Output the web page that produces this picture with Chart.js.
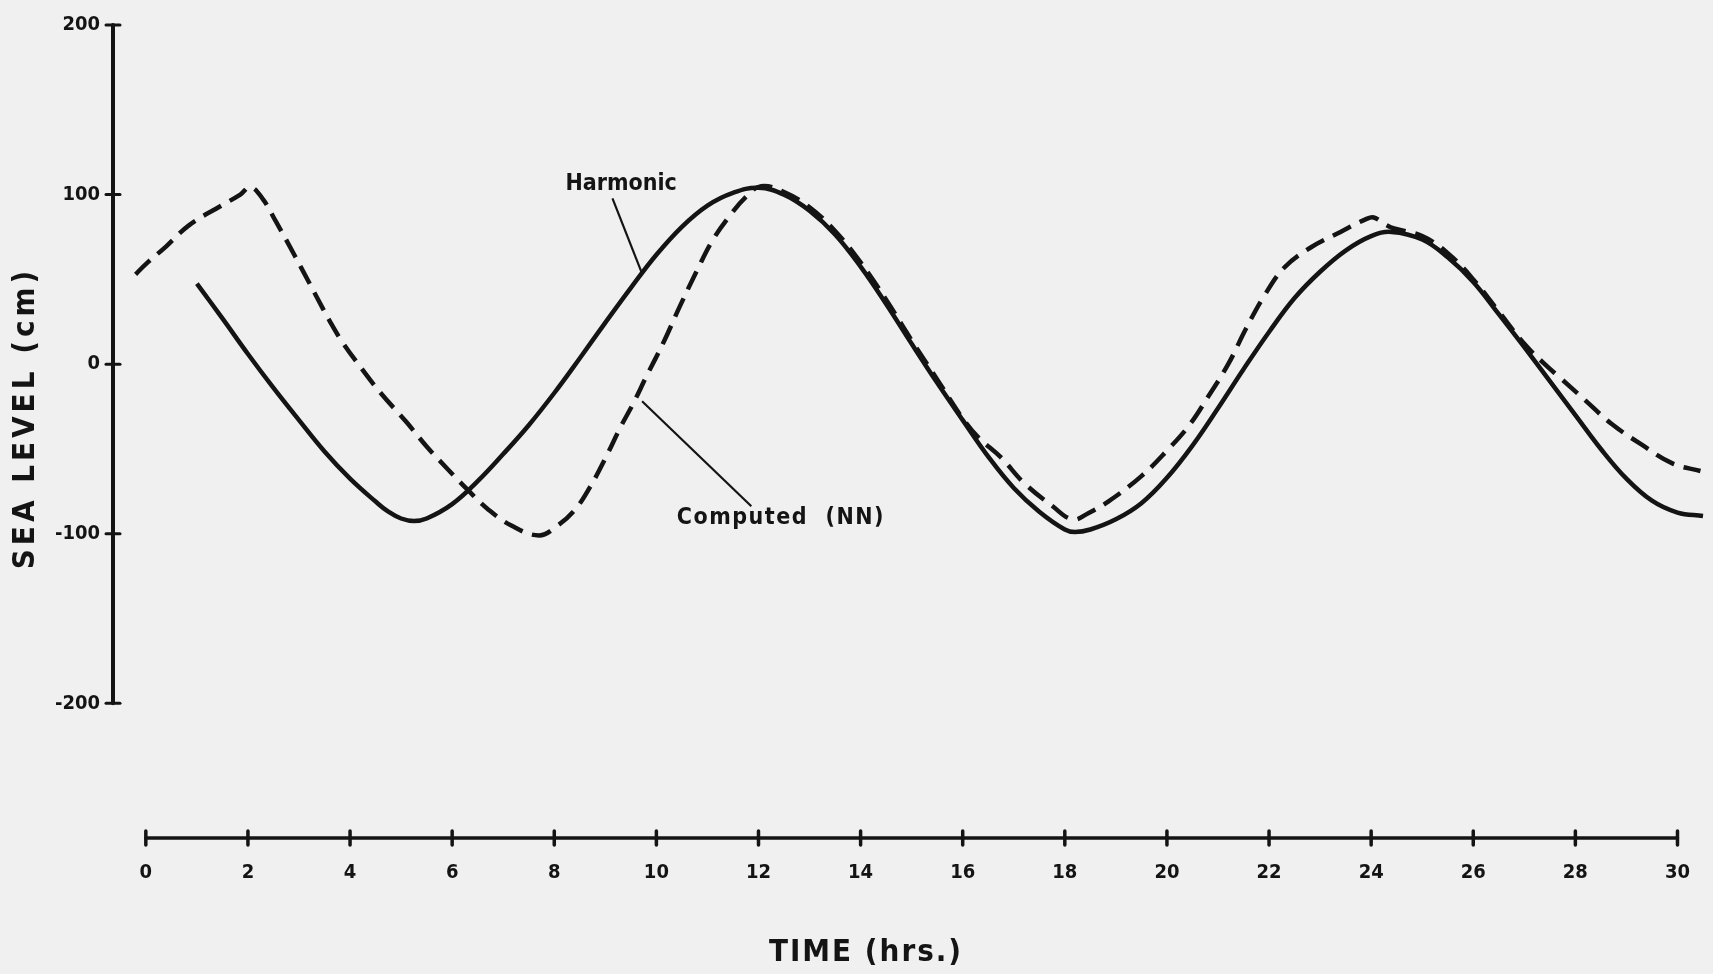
<!DOCTYPE html>
<html>
<head>
<meta charset="utf-8">
<script src="https://cdn.jsdelivr.net/npm/chart.js@4/dist/chart.umd.min.js"></script>
<style>
html,body{margin:0;padding:0;background:#f0f0f0;overflow:hidden}
#wrap{width:1713px;height:974px;position:relative}
canvas{display:block}
</style>
</head>
<body>
<div id="wrap"><canvas id="c" width="1713" height="974"></canvas></div>
<script>
// ---- data ----
const harmonicHours = [1.0,1.5,2.0,2.5,3.0,3.5,4.0,4.5,4.75,5.0,5.25,5.5,6.0,6.5,7.0,7.5,8.0,8.5,9.0,9.5,10.0,10.5,11.0,11.5,12.0,12.5,13.0,13.5,14.0,14.5,15.0,15.5,16.0,16.5,17.0,17.5,18.0,18.2,18.5,19.0,19.5,20.0,20.5,21.0,21.5,22.0,22.5,23.0,23.5,24.0,24.4,25.0,25.5,26.0,26.5,27.0,27.5,28.0,28.5,29.0,29.5,30.0,30.5];
const harmonicLevels = [47.5,27,6,-14,-33,-51.5,-67.5,-81,-87,-91,-92.5,-91,-82.5,-69,-53,-36,-17,3.5,24.5,45,64.5,81,93.5,101,104,100,90.5,76.5,57.5,35.5,12,-11,-33,-54.5,-73,-87,-97.5,-99,-97.5,-91.5,-82,-67,-48,-26,-3,19,39,54.5,67,75.5,78,73.5,63,48.5,29.5,10,-10,-30,-50,-67.5,-80.5,-87.5,-89.5];
const computedHours = [-0.2,0.0,0.4,0.85,1.45,1.85,2.05,2.3,2.55,2.8,3.05,3.35,3.6,3.85,4.25,4.6,5.1,5.5,5.9,6.3,6.7,7.15,7.7,8.05,8.4,8.7,9.0,9.3,9.55,9.8,10.15,10.45,10.8,11.1,11.45,11.75,12.05,12.5,13.0,13.5,14.0,14.5,15.0,15.5,16.0,16.3,16.75,17.2,17.75,18.15,18.45,18.85,19.5,20.0,20.45,20.8,21.2,21.55,21.9,22.3,22.8,23.4,23.9,24.05,24.3,24.45,25.0,25.5,26.0,26.5,27.0,27.4,27.7,28.2,28.7,29.3,29.9,30.45];
const computedLevels = [53,59,69.5,82,93,100,104.5,97,84,70.5,56.5,39.5,25.5,13,-3.5,-17,-34,-48.5,-61.5,-74,-85.5,-95,-101,-95.5,-86,-72.5,-55.5,-37,-23,-7.5,13.5,33.5,55.5,73,88,98.5,105,101.5,92.5,78.5,60,38,14,-9,-32,-43,-55,-70,-83.5,-91.5,-88,-81,-66,-51,-35.5,-19.5,0,21,40,57,68.5,78,85.5,86.5,82,80,75.5,65.5,50,31,12,0,-8,-21.5,-35,-47.5,-58.5,-63];
const xTickValues = [0,2,4,6,8,10,12,14,16,18,20,22,24,26,28,30];
const yTickValues = [-200,-100,0,100,200];
const seriesNames = ['Harmonic','Computed  (NN)'];
const xAxisTitle = 'TIME (hrs.)';
const yAxisTitle = 'SEA LEVEL (cm)';

// label callouts, in data coordinates
const callouts = [
  {text: seriesNames[0], x: 8.22, y: 106, from: [9.14, 97.8], to: [9.72, 53.4], spacing: '0px'},
  {text: seriesNames[1], x: 10.40, y: -90.8, from: [11.86, -83.8], to: [9.72, -21.9], spacing: '1.5px'}
];

const FONT = "'DejaVu Sans Condensed','Liberation Sans Narrow','DejaVu Sans',sans-serif";
const INK = '#141414';

const paper = {
  id: 'paper',
  beforeDraw(chart) {
    const c = chart.ctx;
    c.save();
    c.fillStyle = '#f0f0f0';
    c.fillRect(0, 0, chart.width, chart.height);
    c.restore();
  },
  afterDraw(chart) {
    const c = chart.ctx;
    const xs = chart.scales.x, ys = chart.scales.y;
    const area = chart.chartArea;
    c.save();
    c.strokeStyle = INK;
    c.fillStyle = INK;
    c.lineCap = 'round';
    // y axis line
    const ax = area.left;
    c.lineWidth = 4;
    c.beginPath();
    c.moveTo(ax, ys.getPixelForValue(yTickValues[yTickValues.length - 1]));
    c.lineTo(ax, ys.getPixelForValue(yTickValues[0]));
    c.stroke();
    c.lineWidth = 3;
    yTickValues.forEach(v => {
      const py = ys.getPixelForValue(v);
      c.beginPath(); c.moveTo(ax - 7, py); c.lineTo(ax + 7, py); c.stroke();
    });
    // x axis line
    const ay = area.bottom;
    c.lineWidth = 3.5;
    c.beginPath();
    c.moveTo(xs.getPixelForValue(xTickValues[0]), ay);
    c.lineTo(xs.getPixelForValue(xTickValues[xTickValues.length - 1]), ay);
    c.stroke();
    xTickValues.forEach(v => {
      const px = xs.getPixelForValue(v);
      c.beginPath(); c.moveTo(px, ay - 7); c.lineTo(px, ay + 7); c.stroke();
    });
    // axis titles
    c.textAlign = 'center';
    c.textBaseline = 'middle';
    c.font = 'bold 31px ' + FONT;
    c.letterSpacing = '2px';
    c.fillText(xAxisTitle, 866, 953);
    c.save();
    c.translate(26, 418);
    c.rotate(-Math.PI / 2);
    c.letterSpacing = '4px';
    c.fillText(yAxisTitle, 0, 0);
    c.restore();
    // callouts
    c.font = 'bold 23px ' + FONT;
    c.textAlign = 'left';
    c.lineWidth = 2.2;
    c.lineCap = 'butt';
    callouts.forEach(o => {
      c.letterSpacing = o.spacing;
      c.fillText(o.text, xs.getPixelForValue(o.x), ys.getPixelForValue(o.y));
      c.beginPath();
      c.moveTo(xs.getPixelForValue(o.from[0]), ys.getPixelForValue(o.from[1]));
      c.lineTo(xs.getPixelForValue(o.to[0]), ys.getPixelForValue(o.to[1]));
      c.stroke();
    });
    c.restore();
  }
};

const tickFont = {family: FONT, size: 20, weight: 'bold'};

new Chart(document.getElementById('c'), {
  type: 'line',
  data: {
    datasets: [
      {
        label: seriesNames[0],
        data: harmonicHours.map((h, i) => ({x: h, y: harmonicLevels[i]})),
        borderColor: INK, borderWidth: 4.5, pointRadius: 0, fill: false,
        tension: 0.4
      },
      {
        label: seriesNames[1],
        data: computedHours.map((h, i) => ({x: h, y: computedLevels[i]})),
        borderColor: INK, borderWidth: 4.5, borderDash: [20, 10], pointRadius: 0, fill: false,
        tension: 0.4
      }
    ]
  },
  options: {
    responsive: false,
    animation: false,
    devicePixelRatio: 1,
    layout: {padding: {top: 17, left: 0, right: 0, bottom: 0}},
    plugins: {legend: {display: false}, tooltip: {enabled: false}},
    scales: {
      x: {
        type: 'linear', min: -0.643, max: 30.526,
        grid: {display: false, drawTicks: false}, border: {display: false},
        ticks: {font: tickFont, color: INK, padding: 23, maxRotation: 0, autoSkip: false},
        afterBuildTicks: s => { s.ticks = xTickValues.map(v => ({value: v})); },
        afterFit: s => { s.height = 136; }
      },
      y: {
        type: 'linear', min: -279.4, max: 200,
        grid: {display: false, drawTicks: false}, border: {display: false},
        ticks: {font: tickFont, color: INK, padding: 13, autoSkip: false},
        afterBuildTicks: s => { s.ticks = yTickValues.map(v => ({value: v})); },
        afterFit: s => { s.width = 113; }
      }
    }
  },
  plugins: [paper]
});
</script>
</body>
</html>
